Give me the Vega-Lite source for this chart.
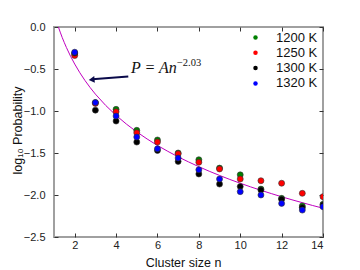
{
  "$schema": "https://vega.github.io/schema/vega-lite/v6.json",
  "autosize": {"type": "none"},
  "padding": {"left": 54, "top": 27, "right": 37, "bottom": 33},
  "width": 269,
  "height": 210,
  "background": "white",
  "config": {
    "view": {"stroke": "#a0a0a0", "strokeWidth": 2},
    "axis": {
      "domain": false, "grid": false,
      "tickColor": "#333", "tickSize": -4, "tickWidth": 1,
      "labelFont": "Liberation Sans", "labelFontSize": 11, "labelColor": "#222",
      "titleFont": "Liberation Sans", "titleFontSize": 12.5, "titleFontWeight": "normal", "titleColor": "#111"
    },
    "legend": {
      "labelFont": "Liberation Sans", "labelFontSize": 13, "labelColor": "#111"
    }
  },
  "datasets": {
    "pts": [
      {"n": 2, "v": -0.32, "T": "1200 K"}, {"n": 3, "v": -0.90, "T": "1200 K"}, {"n": 4, "v": -0.98, "T": "1200 K"}, {"n": 5, "v": -1.23, "T": "1200 K"}, {"n": 6, "v": -1.345, "T": "1200 K"}, {"n": 7, "v": -1.50, "T": "1200 K"}, {"n": 8, "v": -1.58, "T": "1200 K"}, {"n": 9, "v": -1.68, "T": "1200 K"}, {"n": 10, "v": -1.76, "T": "1200 K"}, {"n": 11, "v": -1.93, "T": "1200 K"}, {"n": 12, "v": -2.04, "T": "1200 K"}, {"n": 13, "v": -2.13, "T": "1200 K"}, {"n": 14, "v": -2.11, "T": "1200 K"},
      {"n": 2, "v": -0.34, "T": "1250 K"}, {"n": 3, "v": -0.91, "T": "1250 K"}, {"n": 4, "v": -1.01, "T": "1250 K"}, {"n": 5, "v": -1.26, "T": "1250 K"}, {"n": 6, "v": -1.37, "T": "1250 K"}, {"n": 7, "v": -1.51, "T": "1250 K"}, {"n": 8, "v": -1.61, "T": "1250 K"}, {"n": 9, "v": -1.69, "T": "1250 K"}, {"n": 10, "v": -1.81, "T": "1250 K"}, {"n": 11, "v": -1.83, "T": "1250 K"}, {"n": 12, "v": -1.86, "T": "1250 K"}, {"n": 13, "v": -1.98, "T": "1250 K"}, {"n": 14, "v": -2.02, "T": "1250 K"},
      {"n": 2, "v": -0.31, "T": "1300 K"}, {"n": 3, "v": -0.99, "T": "1300 K"}, {"n": 4, "v": -1.12, "T": "1300 K"}, {"n": 5, "v": -1.37, "T": "1300 K"}, {"n": 6, "v": -1.47, "T": "1300 K"}, {"n": 7, "v": -1.60, "T": "1300 K"}, {"n": 8, "v": -1.75, "T": "1300 K"}, {"n": 9, "v": -1.87, "T": "1300 K"}, {"n": 10, "v": -1.90, "T": "1300 K"}, {"n": 11, "v": -1.94, "T": "1300 K"}, {"n": 12, "v": -2.05, "T": "1300 K"}, {"n": 13, "v": -2.15, "T": "1300 K"}, {"n": 14, "v": -2.12, "T": "1300 K"},
      {"n": 2, "v": -0.30, "T": "1320 K"}, {"n": 3, "v": -0.90, "T": "1320 K"}, {"n": 4, "v": -1.06, "T": "1320 K"}, {"n": 5, "v": -1.31, "T": "1320 K"}, {"n": 6, "v": -1.45, "T": "1320 K"}, {"n": 7, "v": -1.56, "T": "1320 K"}, {"n": 8, "v": -1.70, "T": "1320 K"}, {"n": 9, "v": -1.81, "T": "1320 K"}, {"n": 10, "v": -1.96, "T": "1320 K"}, {"n": 11, "v": -2.00, "T": "1320 K"}, {"n": 12, "v": -2.10, "T": "1320 K"}, {"n": 13, "v": -2.18, "T": "1320 K"}, {"n": 14, "v": -2.14, "T": "1320 K"}
    ],
    "fit": [
      {"n": 1.0, "v": 0.17}, {"n": 1.1, "v": 0.086}, {"n": 1.2, "v": 0.009}, {"n": 1.3, "v": -0.061}, {"n": 1.4, "v": -0.127}, {"n": 1.5, "v": -0.187}, {"n": 1.6, "v": -0.244}, {"n": 1.8, "v": -0.348}, {"n": 2.0, "v": -0.441}, {"n": 2.25, "v": -0.545}, {"n": 2.5, "v": -0.638}, {"n": 2.75, "v": -0.722}, {"n": 3.0, "v": -0.799}, {"n": 3.5, "v": -0.934}, {"n": 4.0, "v": -1.052}, {"n": 4.5, "v": -1.156}, {"n": 5.0, "v": -1.249}, {"n": 5.5, "v": -1.333}, {"n": 6.0, "v": -1.410}, {"n": 6.5, "v": -1.480}, {"n": 7.0, "v": -1.546}, {"n": 7.5, "v": -1.606}, {"n": 8.0, "v": -1.663}, {"n": 8.5, "v": -1.717}, {"n": 9.0, "v": -1.767}, {"n": 9.5, "v": -1.815}, {"n": 10.0, "v": -1.860}, {"n": 10.5, "v": -1.903}, {"n": 11.0, "v": -1.944}, {"n": 11.5, "v": -1.983}, {"n": 12.0, "v": -2.021}, {"n": 12.5, "v": -2.057}, {"n": 13.0, "v": -2.091}, {"n": 13.5, "v": -2.125}, {"n": 14.0, "v": -2.157}
    ],
    "arrow": [{"n": 4.59, "v": -0.59, "n2": 2.85, "v2": -0.623}],
    "head": [{"n": 2.82, "v": -0.627}],
    "lab": [{"n": 4.72, "v": -0.553, "t": "P = An"}],
    "sup": [{"n": 6.94, "v": -0.464, "t": "−2.03"}]
  },
  "layer": [
    {
      "data": {"name": "fit"},
      "mark": {"type": "line", "color": "#c000c0", "strokeWidth": 1, "clip": true},
      "encoding": {
        "x": {"field": "n", "type": "quantitative", "scale": {"domain": [1, 14], "nice": false, "zero": false},
              "axis": {"orient": "top", "values": [2, 4, 6, 8, 10, 12, 14], "labels": false, "title": null}},
        "y": {"field": "v", "type": "quantitative", "scale": {"domain": [-2.5, 0], "nice": false, "zero": false},
              "axis": {"orient": "right", "values": [-2.5, -2, -1.5, -1, -0.5, 0], "labels": false, "title": null}}
      }
    },
    {
      "data": {"name": "pts"},
      "mark": {"type": "point", "filled": true, "size": 36, "opacity": 1, "stroke": "#333", "strokeWidth": 0.6, "clip": true},
      "encoding": {
        "x": {"field": "n", "type": "quantitative",
              "axis": {"orient": "bottom", "values": [2, 4, 6, 8, 10, 12, 14], "labelPadding": 6, "title": "Cluster size n", "titleX": 129, "titleY": 29, "titleBaseline": "alphabetic"}},
        "y": {"field": "v", "type": "quantitative",
              "axis": {"orient": "left", "values": [-2.5, -2, -1.5, -1, -0.5, 0], "format": ".1f", "labelPadding": 13, "title": "log₁₀ Probability", "titleX": -33, "titleY": 103, "titleAngle": 270, "titleBaseline": "alphabetic", "titleAlign": "center"}},
        "color": {"field": "T", "type": "nominal",
                  "scale": {"domain": ["1200 K", "1250 K", "1300 K", "1320 K"], "range": ["#008000", "#ff0000", "#000000", "#0000ff"]},
                  "legend": {"title": null, "orient": "none", "legendX": 195, "legendY": 4, "padding": 0, "symbolType": "circle", "symbolSize": 20, "symbolStrokeWidth": 0, "labelOffset": 14, "rowPadding": 1.3}}
      }
    },
    {
      "data": {"name": "arrow"},
      "mark": {"type": "rule", "color": "#0a0a4a", "strokeWidth": 2},
      "encoding": {
        "x": {"field": "n", "type": "quantitative", "axis": null},
        "y": {"field": "v", "type": "quantitative", "axis": null},
        "x2": {"field": "n2"},
        "y2": {"field": "v2"}
      }
    },
    {
      "data": {"name": "head"},
      "mark": {"type": "point", "shape": "triangle-left", "filled": true, "size": 45, "color": "#0a0a4a", "opacity": 1, "angle": -5},
      "encoding": {
        "x": {"field": "n", "type": "quantitative", "axis": null},
        "y": {"field": "v", "type": "quantitative", "axis": null}
      }
    },
    {
      "data": {"name": "lab"},
      "mark": {"type": "text", "font": "Liberation Serif", "fontStyle": "italic", "fontSize": 16, "align": "left", "baseline": "alphabetic", "color": "#111"},
      "encoding": {
        "x": {"field": "n", "type": "quantitative", "axis": null},
        "y": {"field": "v", "type": "quantitative", "axis": null},
        "text": {"field": "t"}
      }
    },
    {
      "data": {"name": "sup"},
      "mark": {"type": "text", "font": "Liberation Serif", "fontSize": 10.5, "align": "left", "baseline": "alphabetic", "color": "#111"},
      "encoding": {
        "x": {"field": "n", "type": "quantitative", "axis": null},
        "y": {"field": "v", "type": "quantitative", "axis": null},
        "text": {"field": "t"}
      }
    }
  ],
  "resolve": {"axis": {"x": "independent", "y": "independent"}}
}
